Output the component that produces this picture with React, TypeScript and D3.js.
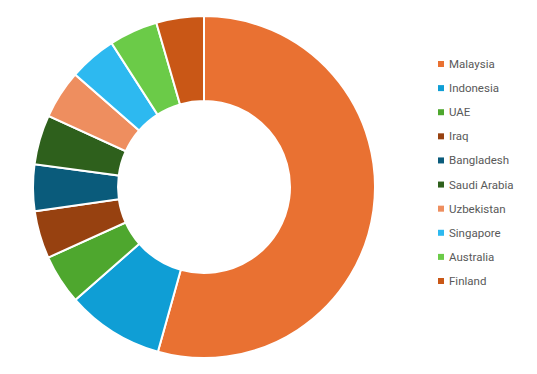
import React, { useEffect, useRef } from "react";
import * as d3 from "d3";

// Countries and their shares (in %)
const countries = [
  "Malaysia",
  "Indonesia",
  "UAE",
  "Iraq",
  "Bangladesh",
  "Saudi Arabia",
  "Uzbekistan",
  "Singapore",
  "Australia",
  "Finland",
];
const shares = [54.4, 9.2, 4.7, 4.5, 4.4, 4.7, 4.6, 4.5, 4.6, 4.5];
const colors = [
  "#E97132",
  "#0F9ED5",
  "#4EA72E",
  "#974110",
  "#0A5B7B",
  "#2E601C",
  "#EE8E5F",
  "#2DB9F0",
  "#6BCB48",
  "#C95716",
];

interface Slice {
  name: string;
  value: number;
  color: string;
}

const App = () => {
  const ref = useRef<SVGSVGElement>(null);

  useEffect(() => {
    const width = 537;
    const height = 374;
    const cx = 204;
    const cy = 187;
    const outer = 171;
    const inner = 86;

    const data: Slice[] = countries.map((name, i) => ({
      name,
      value: shares[i],
      color: colors[i],
    }));

    const svg = d3.select(ref.current);
    svg.selectAll("*").remove();
    svg.attr("width", width).attr("height", height);

    const g = svg.append("g").attr("transform", `translate(${cx}, ${cy})`);

    const pie = d3
      .pie<Slice>()
      .value((d) => d.value)
      .sort(null);

    const arc = d3.arc<d3.PieArcDatum<Slice>>().innerRadius(inner).outerRadius(outer);

    g.selectAll("path")
      .data(pie(data))
      .enter()
      .append("path")
      .attr("d", arc)
      .attr("fill", (d) => d.data.color)
      .attr("stroke", "#ffffff")
      .attr("stroke-width", 2);

    // Legend on the right
    const legendY = d3
      .scalePoint<string>()
      .domain(countries)
      .range([64, 281]);

    const legend = svg
      .append("g")
      .selectAll("g")
      .data(data)
      .enter()
      .append("g")
      .attr("transform", (d) => `translate(438, ${legendY(d.name)})`);

    legend
      .append("rect")
      .attr("x", 0)
      .attr("y", -3)
      .attr("width", 6)
      .attr("height", 6)
      .attr("fill", (d) => d.color);

    legend
      .append("text")
      .attr("x", 11)
      .attr("y", 0)
      .attr("dy", "0.35em")
      .attr("font-family", "Roboto, sans-serif")
      .attr("font-size", 11.5)
      .attr("fill", "#595959")
      .text((d) => d.name);
  }, []);

  return (
    <div style={{ position: "absolute", left: 0, top: 0, background: "#fff" }}>
      <svg ref={ref} style={{ display: "block" }} />
    </div>
  );
};

export default App;
